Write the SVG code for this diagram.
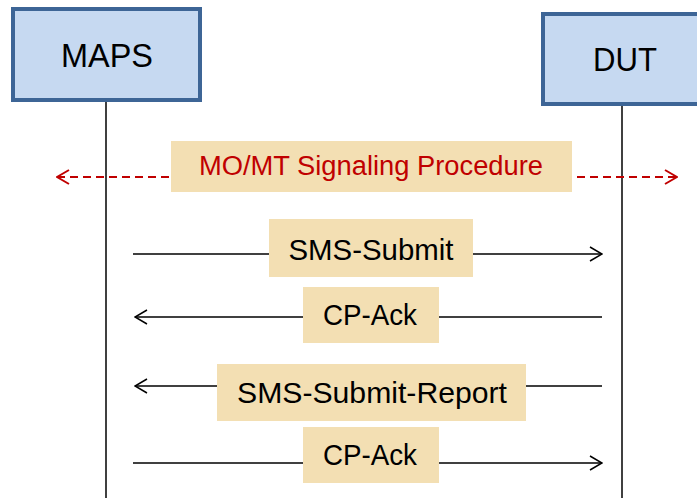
<svg xmlns="http://www.w3.org/2000/svg" width="697" height="498" viewBox="0 0 697 498">
  <style>
    .actor rect { fill: #c6d9f1; stroke: #3d6596; stroke-width: 4; }
    .actor text { font-family: "Liberation Sans", Arial, sans-serif; font-size: 33px; fill: #000; text-anchor: middle; }
    .life { stroke: #000; stroke-width: 1.5; fill: none; }
    .msg { stroke: #000; stroke-width: 1.5; fill: none; }
    .sig { stroke: #c00000; stroke-width: 2; stroke-dasharray: 8 5; fill: none; }
    .lbl rect { fill: #f3dfb3; }
    .lbl text { font-family: "Liberation Sans", Arial, sans-serif; font-size: 30px; fill: #000; text-anchor: middle; }
    .lbl text.red { fill: #c00000; font-size: 27px; }
  </style>
  <defs>
    <marker id="open" viewBox="0 0 14 16" refX="13" refY="8" markerWidth="14" markerHeight="16" markerUnits="userSpaceOnUse" orient="auto-start-reverse">
      <path d="M1 1 L13 8 L1 15" fill="none" stroke="#000" stroke-width="1.5"/>
    </marker>
    <marker id="openRed" viewBox="0 0 14 16" refX="13" refY="8" markerWidth="14" markerHeight="16" markerUnits="userSpaceOnUse" orient="auto-start-reverse">
      <path d="M1 1 L13 8 L1 15" fill="none" stroke="#c00000" stroke-width="2"/>
    </marker>
  </defs>

  <rect width="697" height="498" fill="#fff"/>

  <!-- lifelines -->
  <g id="lifelines">
    <line class="life" x1="106" y1="101" x2="106" y2="498"/>
    <line class="life" x1="622" y1="105" x2="622" y2="498"/>
  </g>

  <!-- participants -->
  <g id="maps" class="actor">
    <rect x="13" y="9" width="187" height="91"/>
    <text x="107" y="67" textLength="92" lengthAdjust="spacingAndGlyphs">MAPS</text>
  </g>
  <g id="dut" class="actor">
    <rect x="543" y="14" width="170" height="90"/>
    <text x="625" y="71" textLength="64" lengthAdjust="spacingAndGlyphs">DUT</text>
  </g>

  <!-- message arrows -->
  <g id="connectors">
    <line class="sig" x1="57" y1="177" x2="677" y2="177" marker-start="url(#openRed)" marker-end="url(#openRed)"/>
    <line class="msg" x1="133" y1="254" x2="602" y2="254" marker-end="url(#open)"/>
    <line class="msg" x1="602" y1="317" x2="135" y2="317" marker-end="url(#open)"/>
    <line class="msg" x1="602" y1="386" x2="135" y2="386" marker-end="url(#open)"/>
    <line class="msg" x1="133" y1="463" x2="602" y2="463" marker-end="url(#open)"/>
  </g>

  <!-- message labels -->
  <g id="signaling" class="lbl">
    <rect x="171" y="141" width="401" height="51"/>
    <text class="red" x="371" y="175" textLength="344" lengthAdjust="spacingAndGlyphs">MO/MT Signaling Procedure</text>
  </g>
  <g id="sms-submit" class="lbl">
    <rect x="269" y="219" width="204" height="58"/>
    <text x="371" y="260" textLength="165" lengthAdjust="spacingAndGlyphs">SMS-Submit</text>
  </g>
  <g id="cp-ack-1" class="lbl">
    <rect x="303" y="287" width="136" height="56"/>
    <text x="370" y="325" textLength="94" lengthAdjust="spacingAndGlyphs">CP-Ack</text>
  </g>
  <g id="sms-submit-report" class="lbl">
    <rect x="217" y="364" width="309" height="57"/>
    <text x="372" y="403" textLength="270" lengthAdjust="spacingAndGlyphs">SMS-Submit-Report</text>
  </g>
  <g id="cp-ack-2" class="lbl">
    <rect x="303" y="427" width="136" height="56"/>
    <text x="370" y="465" textLength="94" lengthAdjust="spacingAndGlyphs">CP-Ack</text>
  </g>
</svg>
